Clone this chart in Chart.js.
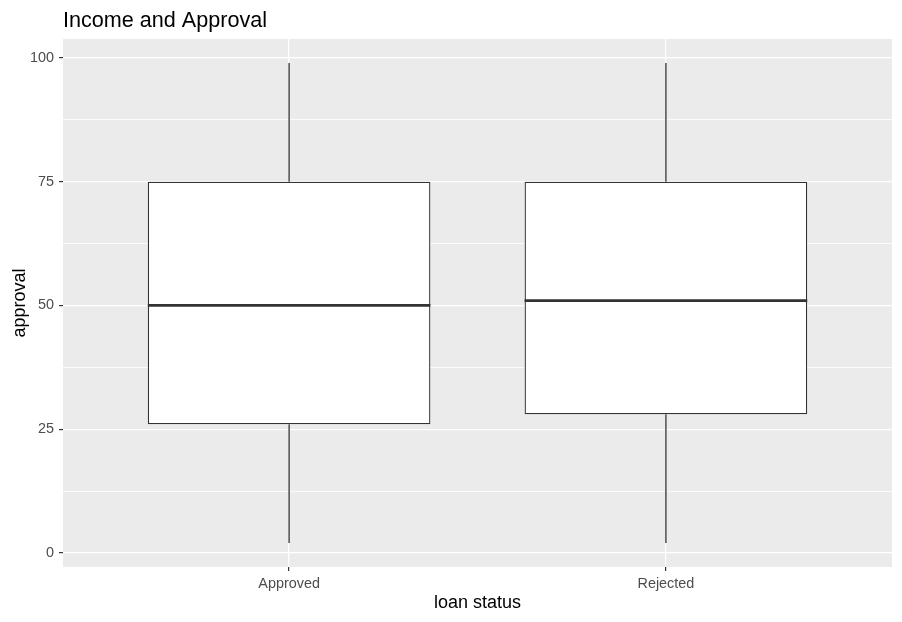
<!DOCTYPE html>
<html>
<head>
<meta charset="utf-8">
<script src="https://cdn.jsdelivr.net/npm/chart.js@4"></script>
<style>
  html, body { margin: 0; padding: 0; background: #ffffff; }
  #wrap { width: 902px; height: 622px; }
</style>
</head>
<body>
<div id="wrap"><canvas id="c" width="902" height="622"></canvas></div>
<script>
// ---- data ----
const categories = ['Approved', 'Rejected'];
const whiskerLow = [2, 2];
const q1 = [26, 28];
const median = [50, 51];
const q3 = [75, 75];
const whiskerHigh = [99, 99];
const yMajorTicks = [0, 25, 50, 75, 100];
const yMinorTicks = [12.5, 37.5, 62.5, 87.5];
const chartTitle = 'Income and Approval';
const xTitle = 'loan status';
const yTitle = 'approval';

// ---- styling constants ----
const BOX_WIDTH = 0.75;
const INK = '#333333';
const FONT = '"Liberation Sans", Arial, sans-serif';

const xPos = categories.map((_, i) => i + 1);

const boxData = xPos.map((x, i) => ({ x: x, y: [q1[i], q3[i]] }));
const whiskerData = [];
xPos.forEach((x, i) => {
  whiskerData.push({ x: x, y: whiskerLow[i] }, { x: x, y: q1[i] }, { x: x, y: null });
  whiskerData.push({ x: x, y: q3[i] }, { x: x, y: whiskerHigh[i] }, { x: x, y: null });
});
const medianData = [];
xPos.forEach((x, i) => {
  medianData.push({ x: x - BOX_WIDTH / 2, y: median[i] }, { x: x + BOX_WIDTH / 2, y: median[i] }, { x: x, y: null });
});

const allY = whiskerLow.concat(whiskerHigh);
const yLo = Math.min(...allY), yHi = Math.max(...allY);
const yPad = (yHi - yLo) * 0.05;

const panelBg = {
  id: 'panelBg',
  beforeDraw(chart) {
    const { ctx, chartArea: a } = chart;
    ctx.save();
    ctx.fillStyle = '#EBEBEB';
    ctx.fillRect(a.left, a.top, a.right - a.left, a.bottom - a.top);
    ctx.restore();
  }
};
const titlePlugin = {
  id: 'ggTitle',
  afterDraw(chart) {
    const { ctx, chartArea: a } = chart;
    ctx.save();
    ctx.fillStyle = '#000000';
    ctx.font = '21.6px ' + FONT;
    ctx.textAlign = 'left';
    ctx.textBaseline = 'alphabetic';
    ctx.fillText(chartTitle, a.left, 27);
    ctx.restore();
  }
};

new Chart(document.getElementById('c'), {
  type: 'line',
  data: {
    datasets: [
      {
        type: 'bar',
        data: boxData,
        backgroundColor: '#FFFFFF',
        borderColor: INK,
        borderWidth: 1.3,
        borderSkipped: false,
        barPercentage: BOX_WIDTH,
        categoryPercentage: 1,
        order: 2
      },
      {
        type: 'line',
        data: whiskerData,
        borderColor: INK,
        borderWidth: 1.3,
        pointRadius: 0,
        spanGaps: false,
        fill: false,
        order: 1
      },
      {
        type: 'line',
        data: medianData,
        borderColor: INK,
        borderWidth: 2.8,
        pointRadius: 0,
        spanGaps: false,
        fill: false,
        order: 0
      }
    ]
  },
  options: {
    responsive: false,
    animation: false,
    events: [],
    layout: { padding: { top: 39, right: 10, left: 0, bottom: 0 } },
    plugins: { legend: { display: false }, tooltip: { enabled: false }, title: { display: false } },
    scales: {
      x: {
        type: 'linear',
        min: 0.4,
        max: 2.6,
        offset: false,
        afterBuildTicks(scale) { scale.ticks = xPos.map(v => ({ value: v })); },
        afterFit(scale) { scale.height = 55; },
        border: { display: false },
        grid: { offset: false, color: '#FFFFFF', lineWidth: 1.2, drawTicks: true, tickLength: 4, tickColor: INK, tickWidth: 1.2 },
        ticks: {
          padding: 4,
          color: '#4D4D4D',
          font: { family: FONT, size: 14.4 },
          maxRotation: 0,
          autoSkip: false,
          callback: (v) => { const i = xPos.indexOf(v); return i >= 0 ? categories[i] : ''; }
        },
        title: { display: true, text: xTitle, color: '#000000', font: { family: FONT, size: 18 }, padding: { top: 0, bottom: 8 } }
      },
      y: {
        type: 'linear',
        min: yLo - yPad,
        max: yHi + yPad,
        afterBuildTicks(scale) {
          scale.ticks = yMajorTicks.concat(yMinorTicks).sort((a, b) => a - b).map(v => ({ value: v }));
        },
        afterFit(scale) { scale.width = 63; },
        border: { display: false },
        grid: {
          color: '#FFFFFF',
          lineWidth: (c) => (yMajorTicks.includes(c.tick && c.tick.value) ? 1.2 : 0.8),
          drawTicks: true,
          tickLength: 4,
          tickWidth: 1.2,
          tickColor: (c) => (yMajorTicks.includes(c.tick && c.tick.value) ? INK : 'rgba(0,0,0,0)')
        },
        ticks: {
          padding: 5,
          color: '#4D4D4D',
          font: { family: FONT, size: 14.4 },
          autoSkip: false,
          callback: (v) => (yMajorTicks.includes(v) ? String(v) : '')
        },
        title: { display: true, text: yTitle, color: '#000000', font: { family: FONT, size: 18 }, padding: { top: 9, bottom: 0 } }
      }
    }
  },
  plugins: [panelBg, titlePlugin]
});
</script>
</body>
</html>
